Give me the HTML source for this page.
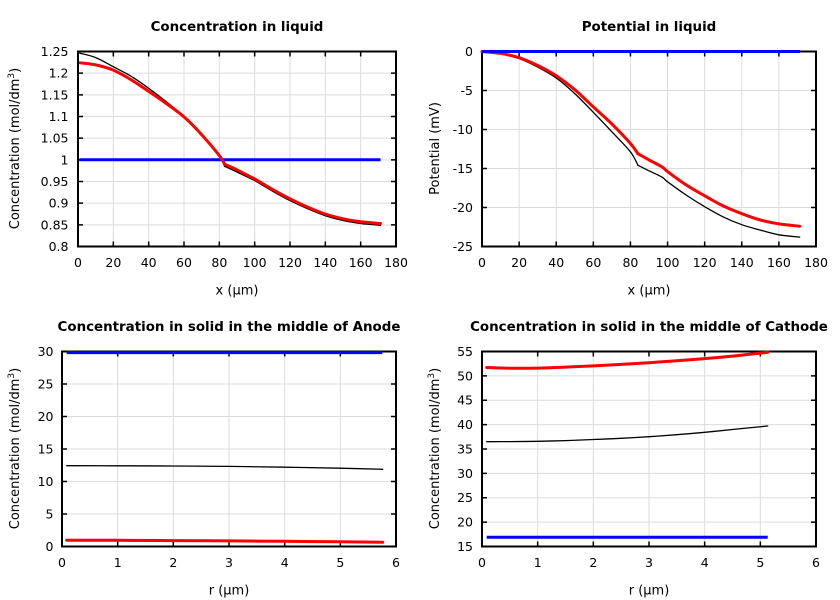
<!DOCTYPE html>
<html><head><meta charset="utf-8"><style>
html,body{margin:0;padding:0;background:#fff;}
svg{display:block;font-family:"DejaVu Sans","Liberation Sans",sans-serif;}
.t{font-weight:bold;font-size:13.4px;text-anchor:middle;}
.tk{font-size:12.5px;}
.xl{text-anchor:middle;}
.yl{text-anchor:end;}
.al{font-size:13px;text-anchor:middle;}
.g{stroke:#dcdcdc;stroke-width:1;fill:none;}
.bx{stroke:#000;stroke-width:2;fill:none;}
.tc{stroke:#000;stroke-width:1.5;fill:none;}
.k{stroke:#000;stroke-width:1.3;fill:none;stroke-linejoin:round;stroke-linecap:round;}
.r{stroke:#f00;stroke-width:3;fill:none;stroke-linejoin:round;stroke-linecap:round;}
.b{stroke:#00f;stroke-width:3;fill:none;}
</style></head><body>
<svg id="s" width="840" height="600" viewBox="0 0 840 600" xmlns="http://www.w3.org/2000/svg">
<rect width="840" height="600" fill="#fff"/>

<!-- ================= PLOT 1 ================= -->
<text class="t" x="237" y="31">Concentration in liquid</text>
<g class="g">
<path d="M113.33 51.5V246.5M148.67 51.5V246.5M184 51.5V246.5M219.33 51.5V246.5M254.67 51.5V246.5M290 51.5V246.5M325.33 51.5V246.5M360.67 51.5V246.5"/>
<path d="M78 224.83H396M78 203.17H396M78 181.5H396M78 159.83H396M78 138.17H396M78 116.5H396M78 94.83H396M78 73.17H396"/>
</g>
<g class="tc">
<path d="M113.33 246.5v-5M148.67 246.5v-5M184 246.5v-5M219.33 246.5v-5M254.67 246.5v-5M290 246.5v-5M325.33 246.5v-5M360.67 246.5v-5"/>
<path d="M113.33 51.5v5M148.67 51.5v5M184 51.5v5M219.33 51.5v5M254.67 51.5v5M290 51.5v5M325.33 51.5v5M360.67 51.5v5"/>
<path d="M78 224.83h5M78 203.17h5M78 181.5h5M78 159.83h5M78 138.17h5M78 116.5h5M78 94.83h5M78 73.17h5"/>
<path d="M396 224.83h-5M396 203.17h-5M396 181.5h-5M396 159.83h-5M396 138.17h-5M396 116.5h-5M396 94.83h-5M396 73.17h-5"/>
</g>
<polyline class="b" points="79.5,159.8 380.5,159.8"/>
<polyline class="k sm" points="79.8,53.2 95.7,57.6 113.3,66.7 131,76.2 148.7,88.3 166.3,101.8 184,116.5 201.7,134.7 219.3,155.5 224.6,166.3"/>
<polyline class="k sm" points="224.6,166.3 237,172 249.4,178 254.7,180.6 272.3,191 290,200.6 307.7,208.8 325.3,215.7 343,220.5 360.7,223.5 380.5,225.3"/>
<polyline class="r sm" points="79.8,62.8 95.7,64.9 113.3,70.1 131,79.7 148.7,91.4 166.3,103.5 184,116.9 201.7,134.7 219.3,155.5 224.6,164.2"/>
<polyline class="r sm" points="224.6,164.2 237,169.8 249.4,176.3 254.7,178.9 272.3,189.3 290,198.8 307.7,207.1 325.3,214 343,218.8 360.7,221.8 380.5,223.5"/>
<rect class="bx" x="78" y="51.5" width="318" height="195"/>
<g class="tk xl">
<text x="78" y="267">0</text><text x="113.33" y="267">20</text><text x="148.67" y="267">40</text><text x="184" y="267">60</text><text x="219.33" y="267">80</text><text x="254.67" y="267">100</text><text x="290" y="267">120</text><text x="325.33" y="267">140</text><text x="360.67" y="267">160</text><text x="396" y="267">180</text>
</g>
<g class="tk yl">
<text x="68.5" y="251">0.8</text><text x="68.5" y="229.3">0.85</text><text x="68.5" y="207.7">0.9</text><text x="68.5" y="186">0.95</text><text x="68.5" y="164.3">1</text><text x="68.5" y="142.7">1.05</text><text x="68.5" y="121">1.1</text><text x="68.5" y="99.3">1.15</text><text x="68.5" y="77.7">1.2</text><text x="68.5" y="56">1.25</text>
</g>
<text class="al" x="237" y="294.5">x (µm)</text>
<text class="al" transform="translate(19,148.5) rotate(-90)">Concentration (mol/dm<tspan font-size="9" dy="-5">3</tspan><tspan dy="5">)</tspan></text>

<!-- ================= PLOT 2 ================= -->
<text class="t" x="649" y="31">Potential in liquid</text>
<g class="g">
<path d="M519.11 51.5V246.5M556.22 51.5V246.5M593.33 51.5V246.5M630.44 51.5V246.5M667.56 51.5V246.5M704.67 51.5V246.5M741.78 51.5V246.5M778.89 51.5V246.5"/>
<path d="M482 90.5H816M482 129.5H816M482 168.5H816M482 207.5H816"/>
</g>
<g class="tc">
<path d="M519.11 246.5v-5M556.22 246.5v-5M593.33 246.5v-5M630.44 246.5v-5M667.56 246.5v-5M704.67 246.5v-5M741.78 246.5v-5M778.89 246.5v-5"/>
<path d="M519.11 51.5v5M556.22 51.5v5M593.33 51.5v5M630.44 51.5v5M667.56 51.5v5M704.67 51.5v5M741.78 51.5v5M778.89 51.5v5"/>
<path d="M482 90.5h5M482 129.5h5M482 168.5h5M482 207.5h5"/>
<path d="M816 90.5h-5M816 129.5h-5M816 168.5h-5M816 207.5h-5"/>
</g>
<rect class="bx" x="482" y="51.5" width="334" height="195"/>
<polyline class="k sm" points="482,51.5 500.6,53.8 519.1,58.5 537.7,67.1 556.2,78 574.8,93.6 593.3,112.3 611.9,131.8 630.4,151.8 637.9,165.2"/>
<polyline class="k sm" points="637.9,165.2 649,170.8 662,177.1 667.6,181.8 686.1,195 704.7,206.7 723.2,216.9 741.8,224.7 760.3,230.1 778.9,234.8 799.7,237.1"/>
<polyline class="r sm" points="482,51.5 500.6,53.45 519.1,57.7 537.7,65.5 556.2,75.7 574.8,89.7 593.3,106.9 611.9,124 630.4,143.5 637.9,153.7"/>
<polyline class="r sm" points="637.9,153.7 649,159.9 662,166.9 667.6,171.6 686.1,184.9 704.7,195.8 723.2,205.9 741.8,213.7 760.3,220 778.9,223.9 799.7,226.2"/>
<polyline class="b" points="482,51.5 800,51.5"/>
<g class="tk xl">
<text x="482" y="267">0</text><text x="519.11" y="267">20</text><text x="556.22" y="267">40</text><text x="593.33" y="267">60</text><text x="630.44" y="267">80</text><text x="667.56" y="267">100</text><text x="704.67" y="267">120</text><text x="741.78" y="267">140</text><text x="778.89" y="267">160</text><text x="816" y="267">180</text>
</g>
<g class="tk yl">
<text x="473" y="56">0</text><text x="473" y="95">-5</text><text x="473" y="134">-10</text><text x="473" y="173">-15</text><text x="473" y="212">-20</text><text x="473" y="251">-25</text>
</g>
<text class="al" x="649" y="294.5">x (µm)</text>
<text class="al" transform="translate(439,148.5) rotate(-90)">Potential (mV)</text>

<!-- ================= PLOT 3 ================= -->
<text class="t" x="229" y="331">Concentration in solid in the middle of Anode</text>
<g class="g">
<path d="M117.67 351.5V546.5M173.33 351.5V546.5M229 351.5V546.5M284.67 351.5V546.5M340.33 351.5V546.5"/>
<path d="M62 514H396M62 481.5H396M62 449H396M62 416.5H396M62 384H396"/>
</g>
<g class="tc">
<path d="M117.67 546.5v-5M173.33 546.5v-5M229 546.5v-5M284.67 546.5v-5M340.33 546.5v-5"/>
<path d="M117.67 351.5v5M173.33 351.5v5M229 351.5v5M284.67 351.5v5M340.33 351.5v5"/>
<path d="M62 514h5M62 481.5h5M62 449h5M62 416.5h5M62 384h5"/>
<path d="M396 514h-5M396 481.5h-5M396 449h-5M396 416.5h-5M396 384h-5"/>
</g>
<rect class="bx" x="62" y="351.5" width="334" height="195"/>
<polyline class="b" points="66.7,352.6 382.3,352.6"/>
<polyline class="k sm" points="66.7,465.7 118,465.8 173,466 229,466.4 285,467.2 340,468.2 382.7,469.3"/>
<polyline class="r sm" points="66.7,540.2 118,540.3 173,540.6 229,540.9 285,541.3 340,541.8 382.7,542.3"/>
<g class="tk xl">
<text x="62" y="567">0</text><text x="117.67" y="567">1</text><text x="173.33" y="567">2</text><text x="229" y="567">3</text><text x="284.67" y="567">4</text><text x="340.33" y="567">5</text><text x="396" y="567">6</text>
</g>
<g class="tk yl">
<text x="53.5" y="551">0</text><text x="53.5" y="518.5">5</text><text x="53.5" y="486">10</text><text x="53.5" y="453.5">15</text><text x="53.5" y="421">20</text><text x="53.5" y="388.5">25</text><text x="53.5" y="356">30</text>
</g>
<text class="al" x="229" y="594.5">r (µm)</text>
<text class="al" transform="translate(19,448.5) rotate(-90)">Concentration (mol/dm<tspan font-size="9" dy="-5">3</tspan><tspan dy="5">)</tspan></text>

<!-- ================= PLOT 4 ================= -->
<text class="t" x="649" y="331">Concentration in solid in the middle of Cathode</text>
<g class="g">
<path d="M537.67 351.5V546.5M593.33 351.5V546.5M649 351.5V546.5M704.67 351.5V546.5M760.33 351.5V546.5"/>
<path d="M482 522.13H816M482 497.75H816M482 473.38H816M482 449H816M482 424.63H816M482 400.25H816M482 375.88H816"/>
</g>
<g class="tc">
<path d="M537.67 546.5v-5M593.33 546.5v-5M649 546.5v-5M704.67 546.5v-5M760.33 546.5v-5"/>
<path d="M537.67 351.5v5M593.33 351.5v5M649 351.5v5M704.67 351.5v5M760.33 351.5v5"/>
<path d="M482 522.13h5M482 497.75h5M482 473.38h5M482 449h5M482 424.63h5M482 400.25h5M482 375.88h5"/>
<path d="M816 522.13h-5M816 497.75h-5M816 473.38h-5M816 449h-5M816 424.63h-5M816 400.25h-5M816 375.88h-5"/>
</g>
<rect class="bx" x="482" y="351.5" width="334" height="195"/>
<polyline class="b" points="486.7,537.3 767.7,537.3"/>
<polyline class="k sm" points="486.7,441.7 509.8,441.6 537.7,441.3 565.5,440.6 593.3,439.5 621.2,438.3 649,436.7 676.8,434.7 704.7,432.3 732.5,429.5 767.7,426"/>
<polyline class="r sm" points="486.7,367.5 509.8,368.2 537.7,368.1 565.5,367.1 593.3,365.9 621.2,364.4 649,362.7 676.8,360.8 704.7,358.6 732.5,356.1 767.7,352.3"/>
<g class="tk xl">
<text x="482" y="567">0</text><text x="537.67" y="567">1</text><text x="593.33" y="567">2</text><text x="649" y="567">3</text><text x="704.67" y="567">4</text><text x="760.33" y="567">5</text><text x="816" y="567">6</text>
</g>
<g class="tk yl">
<text x="473" y="551">15</text><text x="473" y="526.6">20</text><text x="473" y="502.2">25</text><text x="473" y="477.9">30</text><text x="473" y="453.5">35</text><text x="473" y="429.1">40</text><text x="473" y="404.7">45</text><text x="473" y="380.4">50</text><text x="473" y="356">55</text>
</g>
<text class="al" x="649" y="594.5">r (µm)</text>
<text class="al" transform="translate(439,448.5) rotate(-90)">Concentration (mol/dm<tspan font-size="9" dy="-5">3</tspan><tspan dy="5">)</tspan></text>
</svg>
<script>
(function(){
  var ns="http://www.w3.org/2000/svg";
  var els=document.querySelectorAll("polyline.sm");
  for(var i=0;i<els.length;i++){
    var pl=els[i];
    var pts=pl.getAttribute("points").trim().split(/\s+/).map(function(s){var a=s.split(",");return [parseFloat(a[0]),parseFloat(a[1])];});
    var d="M"+pts[0][0]+" "+pts[0][1];
    for(var j=0;j<pts.length-1;j++){
      var p0=pts[j>0?j-1:0],p1=pts[j],p2=pts[j+1],p3=pts[j+2<pts.length?j+2:pts.length-1];
      var c1x=p1[0]+(p2[0]-p0[0])/6,c1y=p1[1]+(p2[1]-p0[1])/6;
      var c2x=p2[0]-(p3[0]-p1[0])/6,c2y=p2[1]-(p3[1]-p1[1])/6;
      d+=" C"+c1x.toFixed(2)+" "+c1y.toFixed(2)+" "+c2x.toFixed(2)+" "+c2y.toFixed(2)+" "+p2[0]+" "+p2[1];
    }
    var path=document.createElementNS(ns,"path");
    path.setAttribute("d",d);
    path.setAttribute("class",pl.getAttribute("class"));
    pl.parentNode.replaceChild(path,pl);
  }
})();
</script>
</body></html>
